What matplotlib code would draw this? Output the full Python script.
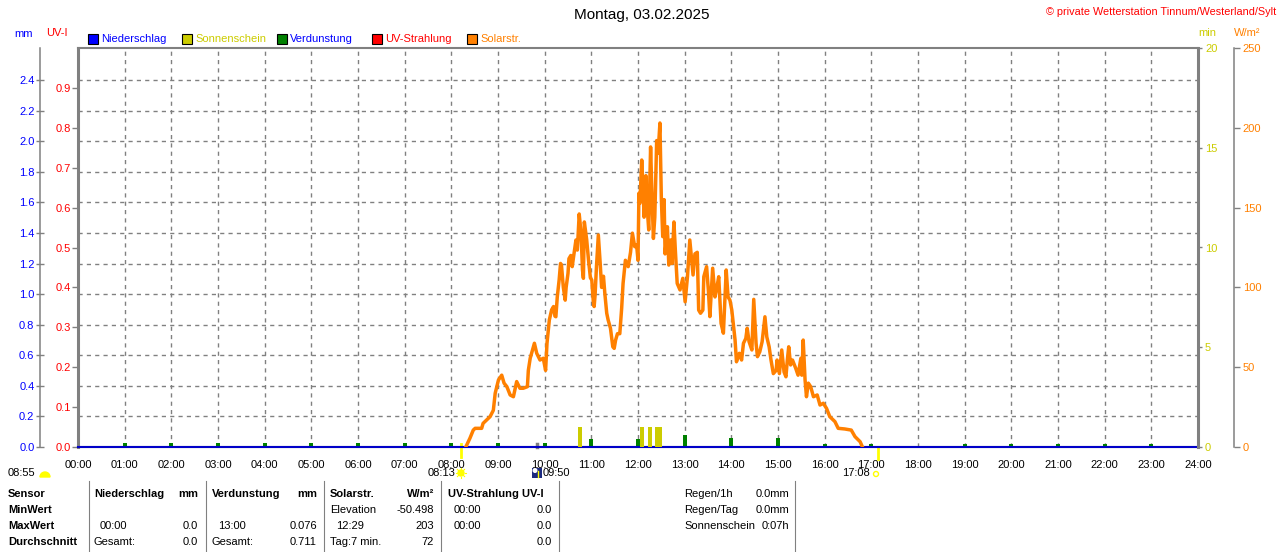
import matplotlib
matplotlib.use('Agg')
import matplotlib.pyplot as plt
from matplotlib.patches import Rectangle, Circle, Wedge

plt.rcParams['font.family'] = ['Liberation Sans', 'DejaVu Sans']
plt.rcParams['font.size'] = 8

W, H = 1280, 552

# colours
BLUE = '#0000FF'
OLIVE = '#CCCC00'
GREEN = '#008000'
RED = '#FF0000'
ORANGE = '#FF8000'
GREY = '#808080'

# ---- data ----
hours = list(range(25))
hour_labels = ['%02d:00' % h for h in hours]
niederschlag = [0.0] * 25

evap_hours = [1, 2, 3, 4, 5, 6, 7, 8, 9, 10, 11, 12, 13, 14, 15, 16, 17, 19, 20, 21, 22, 23]
evap_mm = [0.025, 0.025, 0.025, 0.025, 0.025, 0.025, 0.025, 0.025, 0.025, 0.025,
           0.052, 0.052, 0.076, 0.058, 0.058, 0.02, 0.02, 0.02, 0.02, 0.02, 0.02, 0.02]

sun_times = [10.75, 12.08, 12.25, 12.40, 12.47]
sun_minutes = [1.0, 1.0, 1.0, 1.0, 1.0]

solar_t = [8.31, 8.40, 8.47, 8.51, 8.65, 8.68, 8.83, 8.90, 8.94, 9.01, 9.08, 9.13, 9.19, 9.26,
           9.33, 9.40, 9.47, 9.54, 9.63, 9.65, 9.69, 9.78, 9.83, 9.90, 9.97, 10.02, 10.05,
           10.10, 10.15, 10.19, 10.22, 10.24, 10.27, 10.31, 10.34, 10.36, 10.40, 10.44, 10.46,
           10.50, 10.52, 10.56, 10.59, 10.63, 10.67, 10.70, 10.74, 10.78, 10.81, 10.83, 10.85,
           10.90, 10.94, 10.98, 11.01, 11.04, 11.06, 11.08, 11.11, 11.15, 11.19, 11.22, 11.26,
           11.29, 11.33, 11.36, 11.41, 11.46, 11.49, 11.52, 11.56, 11.61, 11.65, 11.68, 11.73,
           11.79, 11.84, 11.88, 11.93, 11.97, 12.00,
           12.02, 12.04, 12.08, 12.11, 12.13, 12.17, 12.20, 12.23, 12.27, 12.30, 12.33, 12.36,
           12.40, 12.43, 12.47, 12.50, 12.53, 12.56, 12.58, 12.63, 12.66, 12.70, 12.73, 12.77,
           12.80, 12.84, 12.90, 12.96, 13.01, 13.06, 13.11, 13.15, 13.18, 13.22, 13.27, 13.30,
           13.34, 13.39, 13.41, 13.47, 13.51, 13.54, 13.60, 13.65, 13.68, 13.73, 13.78, 13.83,
           13.89, 13.93, 13.97, 14.01, 14.08, 14.11, 14.17, 14.22, 14.26, 14.31, 14.34, 14.38,
           14.44, 14.48, 14.53, 14.56, 14.61, 14.66, 14.72, 14.76, 14.81, 14.85, 14.90, 14.96,
           14.98, 15.03, 15.08, 15.13, 15.17, 15.20, 15.23, 15.27, 15.31, 15.38, 15.43, 15.49,
           15.51, 15.54, 15.58, 15.61, 15.65, 15.70, 15.76, 15.84, 15.90, 15.97, 16.04, 16.11,
           16.22, 16.29, 16.43, 16.57, 16.65, 16.76, 16.81]
solar_v = [0, 5.6, 10.6, 11.7, 11.7, 14.8, 19, 23, 33.7, 42, 45, 40, 37.8, 32.6,
           31.5, 41, 36.8, 36.8, 37.8, 48, 55.6, 65, 58.7, 54.5, 55.6, 48, 65,
           79.6, 86, 88, 82, 81.6, 94, 104.6, 115, 114, 100, 92, 100,
           108.8, 118, 120, 113, 121.5, 129.7, 123.4, 146, 134, 111, 105.7, 141,
           130, 117, 106, 104.6, 92, 88, 95, 113, 132.8, 115, 100, 107,
           96, 83.8, 79.6, 74.4, 62.8, 61.8, 67, 71, 71, 87, 102.5, 117,
           113, 122, 134, 125.5, 126.6, 117,
           159, 152.7, 179.8, 161, 144, 170, 148.5, 136, 188, 157, 130.7, 144,
           192, 184, 203, 155.8, 131.8, 155, 121, 138, 114, 129.7, 115, 141,
           123.4, 102.5, 98.4, 105.7, 91, 106.7, 129.7, 117, 107.8, 121, 122, 85.8,
           83.8, 85.8, 106.7, 113, 97.3, 81.7, 112, 94, 98.4, 106.7, 77.5, 71.3,
           110.9, 94, 92, 85.8, 67, 53.4, 58.7, 54.5, 65, 68, 74.4, 66,
           60.8, 92.5, 65, 56.6, 59.7, 66, 81.6, 69, 62.8, 54.5, 46, 48,
           54.5, 46, 60.8, 47, 44, 54.5, 62.8, 51.4, 54.5, 49.3, 45, 55.6,
           45, 67, 42, 31.5, 40, 37.8, 31.5, 32.6, 26.3, 27.4, 24.2, 19,
           15.9, 11.7, 11.3, 10.6, 6.5, 3.3, 0]

sunrise = 8 + 13 / 60.
sunset = 17 + 8 / 60.
now_time = 9 + 50 / 60.

mm_ticks = [0.0, 0.2, 0.4, 0.6, 0.8, 1.0, 1.2, 1.4, 1.6, 1.8, 2.0, 2.2, 2.4]
uv_ticks = [0.0, 0.1, 0.2, 0.3, 0.4, 0.5, 0.6, 0.7, 0.8, 0.9]
min_ticks = [0, 5, 10, 15, 20]
sol_ticks = [0, 50, 100, 150, 200, 250]

legend_names = ['Niederschlag', 'Sonnenschein', 'Verdunstung', 'UV-Strahlung', 'Solarstr.']
legend_box = [BLUE, OLIVE, GREEN, RED, ORANGE]
legend_text = [BLUE, OLIVE, BLUE, RED, ORANGE]

row_labels = ['Sensor', 'MinWert', 'MaxWert', 'Durchschnitt']
tab_cols = [
    [('Niederschlag', 'mm'), ('', ''), ('00:00', '0.0'), ('Gesamt:', '0.0')],
    [('Verdunstung', 'mm'), ('', ''), ('13:00', '0.076'), ('Gesamt:', '0.711')],
    [('Solarstr.', 'W/m²'), ('Elevation', '-50.498'), ('12:29', '203'), ('Tag:7 min.', '72')],
    [('UV-Strahlung UV-I', ''), ('00:00', '0.0'), ('00:00', '0.0'), ('', '0.0')],
]
summary = [('Regen/1h', '0.0mm'), ('Regen/Tag', '0.0mm'), ('Sonnenschein', '0:07h')]

# ---- figure ----
fig = plt.figure(figsize=(12.8, 5.52), dpi=100)
ax = fig.add_axes([78 / W, 1 - 447 / H, 1120 / W, 399 / H])
ax.set_xlim(0, 24)
ax.set_ylim(0, 1.0)
ax.set_xticks(hours)
ax.set_xticklabels(hour_labels)
ax.set_yticks(uv_ticks)
ax.set_yticklabels(['%.1f' % v for v in uv_ticks])
ax.tick_params(axis='x', length=0, pad=9)
ax.tick_params(axis='y', direction='out', length=4, width=1, color=GREY, labelcolor=RED, pad=1)
ax.grid(axis='x', color=GREY, ls=(0, (3, 3)), lw=1)
ax.spines['left'].set_linewidth(2.2)
ax.spines['top'].set_linewidth(1.5)
ax.spines['bottom'].set_linewidth(1.5)
for s in ['left', 'top', 'bottom']:
    ax.spines[s].set_color(GREY)
ax.spines['right'].set_visible(False)

# mm axis, outside left
ax_mm = ax.twinx()
ax_mm.set_ylim(0, 2.61)
ax_mm.yaxis.set_ticks_position('left')
ax_mm.spines['left'].set_position(('axes', -38 / 1120))
for s in ['top', 'bottom', 'right']:
    ax_mm.spines[s].set_visible(False)
ax_mm.spines['left'].set_color(GREY)
ax_mm.spines['left'].set_linewidth(1.1)
ax_mm.set_yticks(mm_ticks)
ax_mm.set_yticklabels(['%.1f' % v for v in mm_ticks])
ax_mm.tick_params(axis='y', direction='inout', length=6, width=1, color=GREY, labelcolor=BLUE, pad=1)
ax_mm.grid(axis='y', color=GREY, ls=(0, (3, 3)), lw=1)

# min axis, right spine of plot
ax_min = ax.twinx()
ax_min.set_ylim(0, 20)
for s in ['top', 'bottom', 'left']:
    ax_min.spines[s].set_visible(False)
ax_min.spines['right'].set_color(GREY)
ax_min.spines['right'].set_linewidth(2.2)
ax_min.set_yticks(min_ticks)
ax_min.tick_params(axis='y', direction='out', length=3, width=1, color=GREY, labelcolor=OLIVE, pad=2)

# W/m2 axis, outside right
ax_sol = ax.twinx()
ax_sol.set_ylim(0, 250)
for s in ['top', 'bottom', 'left']:
    ax_sol.spines[s].set_visible(False)
ax_sol.spines['right'].set_position(('axes', (1234.3 - 78) / 1120))
ax_sol.spines['right'].set_color(GREY)
ax_sol.spines['right'].set_linewidth(1.1)
ax_sol.set_yticks(sol_ticks)
ax_sol.tick_params(axis='y', direction='out', length=4, width=1, color=GREY, labelcolor=ORANGE, pad=2)

# series
ax_mm.bar(evap_hours, evap_mm, width=0.09, color=GREEN)
ax_mm.plot(hours, niederschlag, color='#0000C8', lw=1.5, clip_on=False)
ax_min.bar(sun_times, sun_minutes, width=0.09, color=OLIVE)
ax_sol.plot(solar_t, solar_v, color=ORANGE, lw=2.5)

tr = ax.get_xaxis_transform()
ax.plot([sunrise, sunrise], [0.008, -0.025], transform=tr, clip_on=False, color='#FFFF00', lw=2)
ax.plot([sunset, sunset], [0.0, -0.03], transform=tr, clip_on=False, color='#FFFF00', lw=2)
ax.plot([now_time, now_time], [0.008, 0.0], transform=tr, clip_on=False, color=GREY, lw=2.5)

# ---- overlay in pixel coords for texts and decorations ----
ov = fig.add_axes([0, 0, 1, 1])
ov.set_xlim(0, W)
ov.set_ylim(H, 0)
ov.axis('off')

ov.text(642, 15, 'Montag, 03.02.2025', ha='center', va='center', fontsize=11)
ov.text(1276, 12, '© private Wetterstation Tinnum/Westerland/Sylt', ha='right', va='center',
        color=RED, fontsize=7.8)
ov.text(14, 34, 'mm', color=BLUE, va='center')
ov.text(46, 33, 'UV-I', color=RED, va='center')
ov.text(1198, 33, 'min', color=OLIVE, va='center')
ov.text(1234, 33, 'W/m²', color=ORANGE, va='center')

lx = [88, 182, 277, 372, 467]
for x, name, bc, tc in zip(lx, legend_names, legend_box, legend_text):
    ov.add_patch(Rectangle((x, 34), 10, 10, facecolor=bc, edgecolor='black', lw=0.8))
    ov.text(x + 13, 39, name, color=tc, va='center')

# day info below axis
ov.text(8, 473, '08:55', va='center')
# y axis of the overlay points down, so 180..360 deg is the upper half
ov.add_patch(Wedge((45, 477), 5, 180, 360, color='#FFFF00'))
ov.text(455, 473, '08:13', va='center', ha='right')
ov.add_patch(Circle((461, 473), 3, color='#FFFF00'))
for dx, dy in [(5, 0), (-5, 0), (0, 5), (0, -5), (3.6, 3.6), (-3.6, 3.6), (3.6, -3.6), (-3.6, -3.6)]:
    ov.plot([461 + dx * 0.7, 461 + dx], [473 + dy * 0.7, 473 + dy], color='#FFFF00', lw=0.8)
ov.add_patch(Rectangle((532, 468), 10, 10, facecolor='#1C2A80', edgecolor='none'))
ov.add_patch(Circle((535, 470.5), 1.8, color='white'))
ov.plot([538, 538], [477, 471], color='#FFFF00', lw=1)
ov.text(543, 473, '09:50', va='center')
ov.text(870, 473, '17:08', va='center', ha='right')
ov.add_patch(Circle((876, 474), 2.5, facecolor='white', edgecolor='#FFFF00', lw=1))

# table
rows_y = [494, 510, 526, 542]
col_x = [94, 212, 330, 448]
val_x = [198, 317, 434, 552]
for y, lab in zip(rows_y, row_labels):
    ov.text(8, y, lab, fontweight='bold', va='center')
for c, col in enumerate(tab_cols):
    for r, (left, right) in enumerate(col):
        bold = (r == 0)
        indent = 6 if (':' in left and left[0].isdigit()) else 0
        ov.text(col_x[c] + indent, rows_y[r], left, va='center',
                fontweight='bold' if bold else 'normal')
        ov.text(val_x[c], rows_y[r], right, va='center', ha='right',
                fontweight='bold' if bold else 'normal')
for (lab, val), y in zip(summary, rows_y):
    ov.text(684, y, lab, va='center')
    ov.text(789, y, val, va='center', ha='right')
for x in [89, 206, 324, 441, 559, 795]:
    ov.plot([x, x], [481, 552], color=GREY, lw=0.8)

fig.savefig('out.png', dpi=100)
